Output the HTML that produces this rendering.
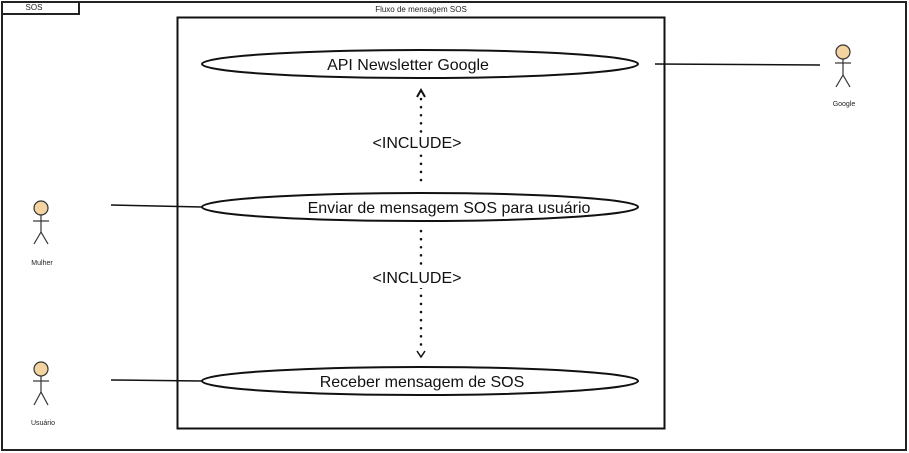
<!DOCTYPE html>
<html><head><meta charset="utf-8"><style>
html,body{margin:0;padding:0;background:#fff;}
svg{display:block;}
text{font-family:"Liberation Sans",sans-serif;}
</style></head><body>
<svg width="909" height="453" viewBox="0 0 909 453" xmlns="http://www.w3.org/2000/svg">
<rect x="0" y="0" width="909" height="453" fill="#fff"/>
<!-- outer frame -->
<rect x="2" y="2" width="904" height="448" fill="none" stroke="#222" stroke-width="2"/>
<rect x="2" y="2" width="77" height="12" fill="#fff" stroke="#222" stroke-width="2"/>
<text x="34" y="10" font-size="8" text-anchor="middle" fill="#222">SOS</text>
<text x="421" y="12" font-size="8" text-anchor="middle" fill="#222">Fluxo de mensagem SOS</text>
<!-- system box -->
<rect x="177.5" y="17.5" width="487" height="411" fill="none" stroke="#111" stroke-width="2"/>
<!-- connectors -->
<line x1="655" y1="64" x2="820" y2="65" stroke="#111" stroke-width="1.5"/>
<line x1="111" y1="205" x2="202" y2="207" stroke="#111" stroke-width="1.5"/>
<line x1="111" y1="380" x2="202" y2="381" stroke="#111" stroke-width="1.5"/>
<!-- ellipses -->
<ellipse cx="420" cy="64" rx="218" ry="14" fill="#fff" stroke="#111" stroke-width="2"/>
<ellipse cx="420" cy="207" rx="218" ry="14" fill="#fff" stroke="#111" stroke-width="2"/>
<ellipse cx="420" cy="381" rx="218" ry="14" fill="#fff" stroke="#111" stroke-width="2"/>
<text x="408" y="70" font-size="16" text-anchor="middle" fill="#111">API Newsletter Google</text>
<text x="449" y="213" font-size="16" text-anchor="middle" fill="#111">Enviar de mensagem SOS para usuário</text>
<text x="422" y="387" font-size="16" text-anchor="middle" fill="#111">Receber mensagem de SOS</text>
<!-- dotted include lines -->
<line x1="421" y1="99" x2="421" y2="183" stroke="#111" stroke-width="2.5" stroke-dasharray="0.1 8" stroke-linecap="round"/>
<polyline points="417,97 421,90 425,97" fill="none" stroke="#111" stroke-width="2"/>
<line x1="421" y1="231" x2="421" y2="352" stroke="#111" stroke-width="2.5" stroke-dasharray="0.1 8" stroke-linecap="round"/>
<polyline points="417,351 421,357 425,351" fill="none" stroke="#111" stroke-width="1.5"/>
<rect x="364" y="133" width="106" height="20" fill="#fff"/>
<text x="417" y="148" font-size="16" text-anchor="middle" fill="#111">&lt;INCLUDE&gt;</text>
<rect x="364" y="268" width="106" height="20" fill="#fff"/>
<text x="417" y="283" font-size="16" text-anchor="middle" fill="#111">&lt;INCLUDE&gt;</text>
<!-- actors -->
<g stroke="#333" stroke-width="1.2" fill="none">
<circle cx="41" cy="208" r="7" fill="#f3d3a0"/>
<line x1="41" y1="215" x2="41" y2="232"/><line x1="33" y1="221" x2="49" y2="221"/>
<line x1="41" y1="232" x2="34" y2="244"/><line x1="41" y1="232" x2="48" y2="244"/>
<circle cx="41" cy="369" r="7" fill="#f3d3a0"/>
<line x1="41" y1="376" x2="41" y2="392"/><line x1="33" y1="381" x2="49" y2="381"/>
<line x1="41" y1="392" x2="34" y2="405"/><line x1="41" y1="392" x2="48" y2="405"/>
<circle cx="843" cy="52" r="7" fill="#f3d3a0"/>
<line x1="843" y1="59" x2="843" y2="75"/><line x1="835" y1="63" x2="851" y2="63"/>
<line x1="843" y1="75" x2="836" y2="87"/><line x1="843" y1="75" x2="850" y2="87"/>
</g>
<text x="42" y="265" font-size="7" text-anchor="middle" fill="#222">Mulher</text>
<text x="43" y="425" font-size="7" text-anchor="middle" fill="#222">Usuário</text>
<text x="844" y="106" font-size="7" text-anchor="middle" fill="#222">Google</text>
</svg>
</body></html>
